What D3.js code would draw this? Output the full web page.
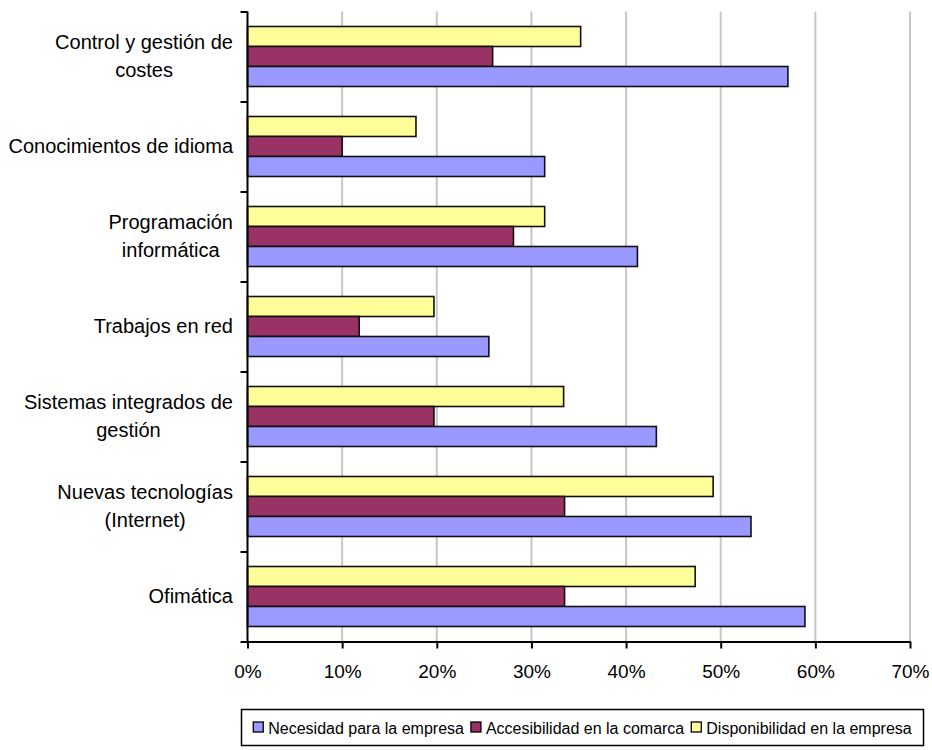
<!DOCTYPE html>
<html>
<head>
<meta charset="utf-8">
<script src="https://cdn.jsdelivr.net/npm/d3@7/dist/d3.min.js"></script>
<style>
  html, body { margin: 0; padding: 0; background: #fff; }
  svg { display: block; font-family: "Liberation Sans", Arial, sans-serif; }
</style>
</head>
<body>
<svg id="chart" width="932" height="750"></svg>
<script>
// ---- Data ----
const categories = [
  "Control y gestión de costes",
  "Conocimientos de idioma",
  "Programación informática",
  "Trabajos en red",
  "Sistemas integrados de gestión",
  "Nuevas tecnologías (Internet)",
  "Ofimática"
];
const categoryLines = [
  ["Control y gestión de", "costes"],
  ["Conocimientos de idioma"],
  ["Programación", "informática"],
  ["Trabajos en red"],
  ["Sistemas integrados de", "gestión"],
  ["Nuevas tecnologías", "(Internet)"],
  ["Ofimática"]
];
const seriesNames = ["Necesidad para la empresa", "Accesibilidad en la comarca", "Disponibilidad en la empresa"];
const necesidad      = [57.1, 31.4, 41.2, 25.5, 43.2, 53.2, 58.9];
const accesibilidad  = [25.9, 10.0, 28.1, 11.8, 19.7, 33.5, 33.5];
const disponibilidad = [35.2, 17.8, 31.4, 19.7, 33.4, 49.2, 47.3];
const xTicks = [0, 10, 20, 30, 40, 50, 60, 70];
const colors = ["#9999FF", "#993366", "#FFFF99"];

// ---- Layout ----
const svg = d3.select("#chart");
const x0 = 247.5, x1 = 910, yTop = 11.5, yBot = 641.5;

const x = d3.scaleLinear().domain([0, 70]).range([x0, x1]);
const y = d3.scaleBand().domain(categories).range([yTop, yBot]);
// order within band: top yellow (Disponibilidad), then maroon, then blue
const inner = d3.scaleBand().domain([2, 1, 0]).range([15, y.bandwidth() - 15]);

const series = [necesidad, accesibilidad, disponibilidad];

// gridlines
svg.append("g").selectAll("line").data(xTicks.filter(d => d > 0)).join("line")
  .attr("x1", d => x(d)).attr("x2", d => x(d))
  .attr("y1", yTop).attr("y2", yBot)
  .attr("stroke", "#c8c8c8").attr("stroke-width", 2);

// bars
const groups = svg.append("g").selectAll("g").data(categories).join("g")
  .attr("transform", d => `translate(0,${y(d)})`);
groups.each(function(cat, i) {
  const g = d3.select(this);
  [2, 1, 0].forEach(s => {
    g.append("rect")
      .attr("x", x(0))
      .attr("y", inner(s))
      .attr("width", x(series[s][i]) - x(0))
      .attr("height", inner.bandwidth())
      .attr("fill", colors[s])
      .attr("stroke", "#111")
      .attr("stroke-width", 1.6);
  });
});

// x axis
const xAxis = d3.axisBottom(x).tickValues(xTicks).tickFormat(d => d + "%").tickSize(7).tickSizeOuter(0);
const gx = svg.append("g").attr("transform", `translate(0,${yBot})`).call(xAxis);
gx.select(".domain").attr("stroke", "#000").attr("stroke-width", 2);
gx.selectAll(".tick line").attr("stroke", "#000").attr("stroke-width", 2);
gx.selectAll(".tick text").attr("font-size", 19).attr("font-family", "Liberation Sans, Arial, sans-serif")
  .attr("fill", "#000").attr("y", 23);

// y axis with ticks at band boundaries
const yAxisScale = d3.scaleLinear().domain([0, categories.length]).range([yTop, yBot]);
const gy = svg.append("g").attr("transform", `translate(${x0},0)`)
  .call(d3.axisLeft(yAxisScale).tickValues(d3.range(categories.length + 1)).tickSize(7).tickFormat(""));
gy.select(".domain").attr("stroke", "#000").attr("stroke-width", 2).attr("d", `M0,${yTop}V${yBot}`);
gy.selectAll(".tick line").attr("stroke", "#000").attr("stroke-width", 2);

// category labels (wrapped, centered block, right edge at 233)
const labelRight = 233, lineH = 28;
categoryLines.forEach((lines, i) => {
  const cy = y(categories[i]) + y.bandwidth() / 2;
  const t = svg.append("text").attr("font-size", 20).attr("fill", "#000")
    .attr("text-anchor", "middle");
  const spans = lines.map(ln => t.append("tspan").text(ln));
  const w = d3.max(spans.map(s => s.node().getComputedTextLength()));
  const cx = labelRight - w / 2;
  spans.forEach((s, k) => {
    s.attr("x", cx).attr("y", cy + (k - (lines.length - 1) / 2) * lineH + 6);
  });
});

// legend
const boxX = 241.5, boxW = 682;
const lg = svg.append("g");
lg.append("rect").attr("x", boxX).attr("y", 709.5).attr("width", boxW).attr("height", 36)
  .attr("fill", "#fff").attr("stroke", "#000").attr("stroke-width", 1.5);
const items = seriesNames.map((name, i) => {
  const sq = lg.append("rect").attr("y", 722).attr("width", 10).attr("height", 10)
    .attr("fill", colors[i]).attr("stroke", "#000").attr("stroke-width", 1.3);
  const tx = lg.append("text").attr("y", 733.5).attr("font-size", 16).attr("fill", "#000").text(name);
  return { sq, tx, w: tx.node().getComputedTextLength() };
});
const gap = 7, sqToText = 15;
const total = d3.sum(items, d => d.w + sqToText) + gap * (items.length - 1);
let cur = boxX + (boxW - total) / 2;
items.forEach(it => {
  it.sq.attr("x", cur);
  it.tx.attr("x", cur + sqToText);
  cur += sqToText + it.w + gap;
});
</script>
</body>
</html>
